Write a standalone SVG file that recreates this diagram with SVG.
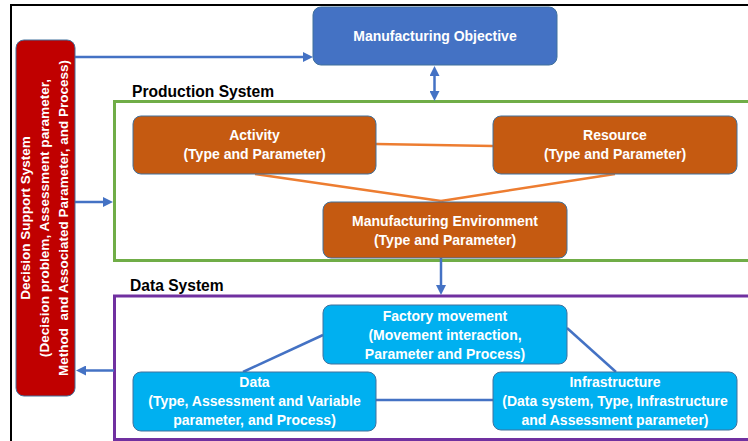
<svg xmlns="http://www.w3.org/2000/svg" width="748" height="441" viewBox="0 0 748 441">
<style>
.t{font-family:"Liberation Sans",Arial,sans-serif;font-weight:bold;font-size:14px;fill:#fff;text-anchor:middle}
.h{font-family:"Liberation Sans",Arial,sans-serif;font-weight:bold;font-size:15.6px;fill:#000}
.box{stroke:#41719C;stroke-width:1}
.obj{fill:#4472C4}
.org{fill:#C55A11}
.cyn{fill:#00B0F0}
.bl{stroke:#4472C4;stroke-width:2.5;fill:none}
.ol{stroke:#ED7D31;stroke-width:2.5;fill:none}
</style>
<defs>
<marker id="ah" viewBox="0 0 10 10" refX="1" refY="5" markerWidth="10" markerHeight="10" markerUnits="userSpaceOnUse" orient="auto-start-reverse">
<path d="M0,0 L10,5 L0,10 z" fill="#4472C4"/>
</marker>
</defs>
<rect width="748" height="441" fill="#fff"/>
<path d="M11 441 V5 H748" fill="none" stroke="#000" stroke-width="2"/>

<g id="production-system">
<rect x="114.5" y="101.5" width="700" height="159" fill="none" stroke="#70AD47" stroke-width="3"/>
<text class="h" x="132" y="97">Production System</text>
</g>
<g id="data-system">
<rect x="114.5" y="296" width="700" height="143.5" fill="none" stroke="#7030A0" stroke-width="3"/>
<text class="h" x="130" y="290.5">Data System</text>
</g>

<g id="connectors">
<path class="bl" d="M75 57 H304" marker-end="url(#ah)"/>
<path class="bl" d="M434.5 75 V92" marker-start="url(#ah)" marker-end="url(#ah)"/>
<path class="bl" d="M75 202 H104" marker-end="url(#ah)"/>
<path class="bl" d="M441 258 V286" marker-end="url(#ah)"/>
<path class="bl" d="M114 370.5 H85" marker-end="url(#ah)"/>
<path class="ol" d="M376 144 L493 146"/>
<path class="ol" d="M255 174 L441 201"/>
<path class="ol" d="M615 174 L441 201"/>
<path class="bl" d="M323 335 L243 372"/>
<path class="bl" d="M567 328 L616 372"/>
<path class="bl" d="M375 400 H493"/>
</g>

<g id="decision-support">
<rect class="box" x="16" y="40" width="59" height="356" rx="8" fill="#C00000"/>
<g transform="rotate(-90 0 218)">
<text class="t" style="font-size:13.5px" x="0" y="248">Decision Support System</text>
<text class="t" style="font-size:13.6px" x="0" y="267">(Decision problem, Assessment parameter,</text>
<text class="t" style="font-size:13.5px" x="0" y="286" xml:space="preserve">Method  and Associated Parameter, and Process)</text>
</g>
</g>

<g id="manufacturing-objective">
<rect class="box obj" x="313" y="7" width="244" height="58" rx="8"/>
<text class="t" x="435" y="41">Manufacturing Objective</text>
</g>

<g id="activity">
<rect class="box org" x="133" y="116" width="243" height="58" rx="8"/>
<text class="t" x="254.5" y="140">Activity</text>
<text class="t" x="254.5" y="159">(Type and Parameter)</text>
</g>

<g id="resource">
<rect class="box org" x="493" y="116" width="244" height="58" rx="8"/>
<text class="t" x="615" y="140">Resource</text>
<text class="t" x="615" y="159">(Type and Parameter)</text>
</g>

<g id="manufacturing-environment">
<rect class="box org" x="323" y="202" width="244" height="56" rx="8"/>
<text class="t" x="445" y="226">Manufacturing Environment</text>
<text class="t" x="445" y="245">(Type and Parameter)</text>
</g>

<g id="factory-movement">
<rect class="box cyn" x="323" y="305" width="244" height="59" rx="8"/>
<text class="t" x="445" y="320.5">Factory movement</text>
<text class="t" x="445" y="339.5">(Movement interaction,</text>
<text class="t" x="445" y="358.5">Parameter and Process)</text>
</g>

<g id="data">
<rect class="box cyn" x="133" y="372" width="243" height="59" rx="8"/>
<text class="t" x="254.5" y="387">Data</text>
<text class="t" x="254.5" y="406">(Type, Assessment and Variable</text>
<text class="t" x="254.5" y="425">parameter, and Process)</text>
</g>

<g id="infrastructure">
<rect class="box cyn" x="493" y="372" width="244" height="58" rx="8"/>
<text class="t" x="615" y="387">Infrastructure</text>
<text class="t" x="615" y="406">(Data system, Type, Infrastructure</text>
<text class="t" x="615" y="425">and Assessment parameter)</text>
</g>
</svg>
